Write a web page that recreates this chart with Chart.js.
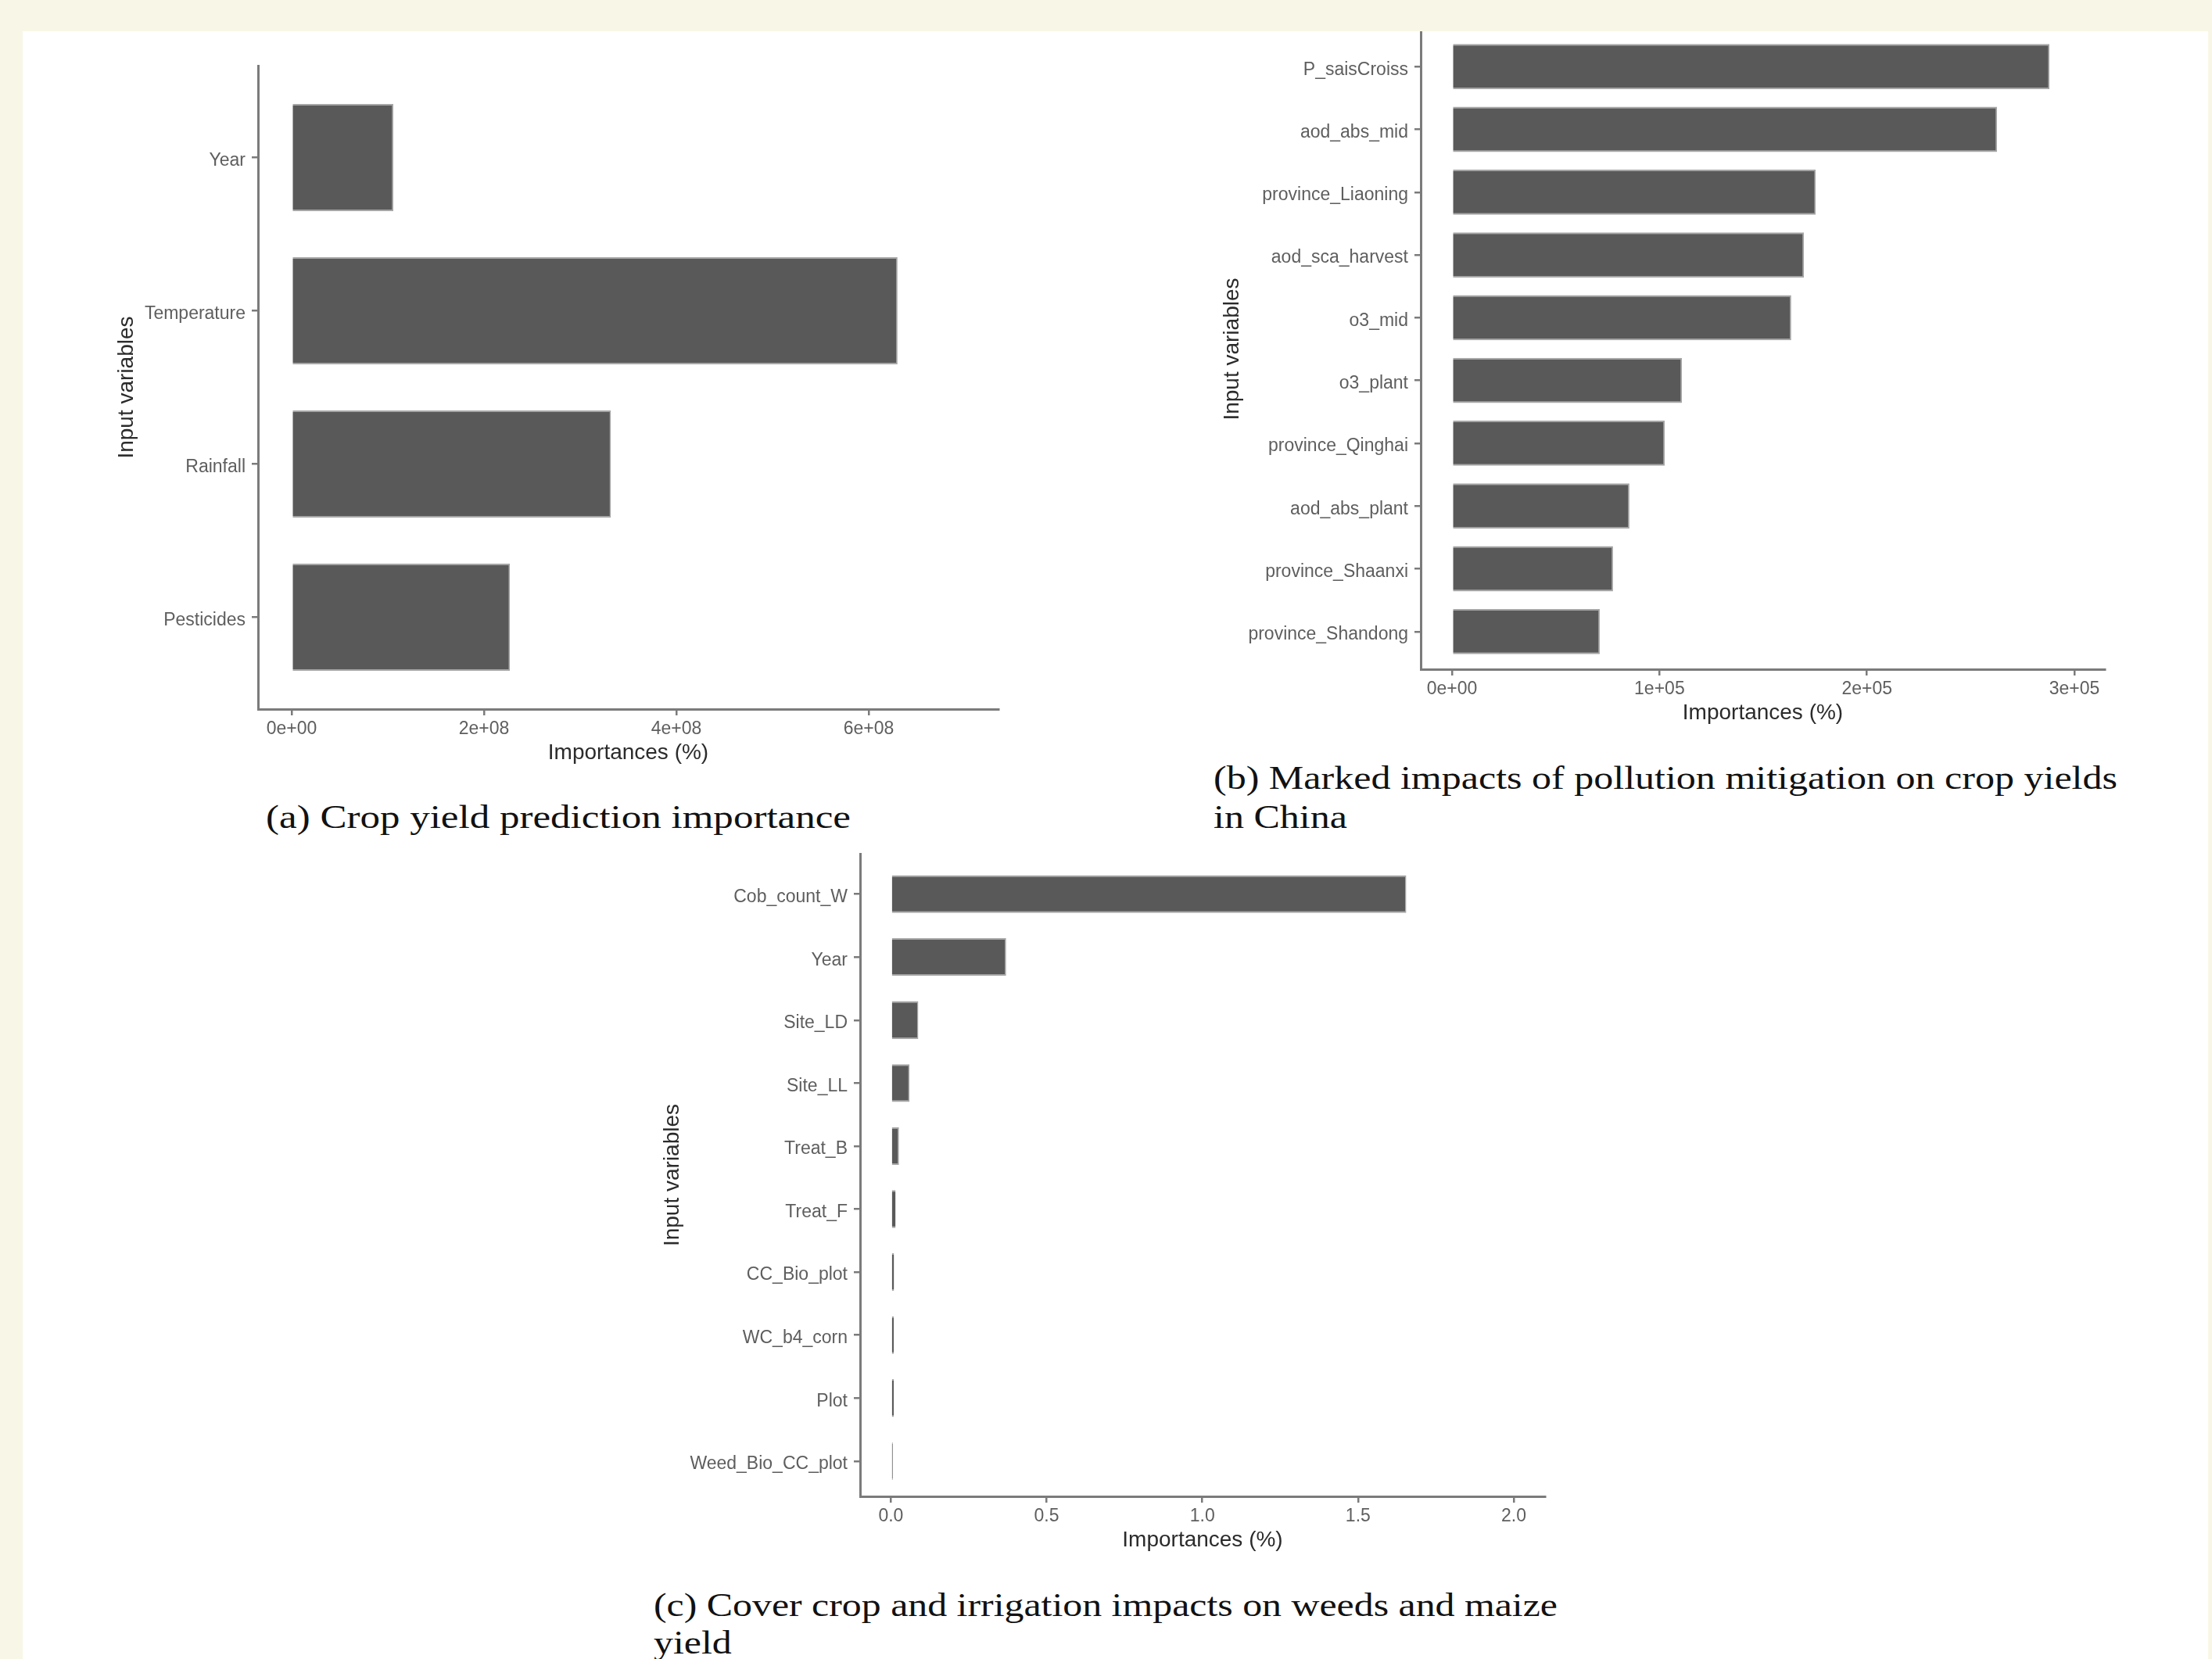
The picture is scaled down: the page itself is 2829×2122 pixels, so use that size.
<!DOCTYPE html>
<html>
<head>
<meta charset="utf-8">
<script src="https://cdn.jsdelivr.net/npm/chart.js@4.4.0/dist/chart.umd.min.js"></script>
<style>
body { margin: 0; background: #f8f7e7; width: 2829px; height: 2122px; overflow: hidden; }
#page { position: absolute; left: 29px; top: 40px; width: 2795px; height: 2082px; background: #fff; overflow: hidden; }
canvas { position: absolute; }
.cap { position: absolute; font-family: 'Liberation Serif', 'Times New Roman', serif; font-size: 42px;
       line-height: 50px; color: #111; white-space: nowrap; transform-origin: 0 50%; }
</style>
</head>
<body>
<div id="page">
  <canvas id="chart_a" width="1237" height="957" style="left:31px; top:0px"></canvas>
  <canvas id="chart_b" width="1182" height="909" style="left:1501px; top:-3px"></canvas>
  <canvas id="chart_c" width="1176" height="934" style="left:791px; top:1030px"></canvas>

  <div class="cap" id="cap_a" style="left:311px; top:980px">(a) Crop yield prediction importance</div>
  <div class="cap" id="cap_b1" style="left:1523px; top:930px">(b) Marked impacts of pollution mitigation on crop yields</div>
  <div class="cap" id="cap_b2" style="left:1523px; top:980px">in China</div>
  <div class="cap" id="cap_c1" style="left:807px; top:1988px">(c) Cover crop and irrigation impacts on weeds and maize</div>
  <div class="cap" id="cap_c2" style="left:807px; top:2036px">yield</div>
</div>

<script>
// (a) crop yield prediction
const labelsA = ['Year', 'Temperature', 'Rainfall', 'Pesticides'];
const valuesA = [1.057e8, 6.30e8, 3.32e8, 2.27e8];
const xTicksA = [0, 2e8, 4e8, 6e8];
const xTickLabelsA = ['0e+00', '2e+08', '4e+08', '6e+08'];

// (b) pollution mitigation, China
const labelsB = ['P_saisCroiss', 'aod_abs_mid', 'province_Liaoning', 'aod_sca_harvest', 'o3_mid',
                 'o3_plant', 'province_Qinghai', 'aod_abs_plant', 'province_Shaanxi', 'province_Shandong'];
const valuesB = [2.88e5, 2.627e5, 1.753e5, 1.696e5, 1.635e5, 1.108e5, 1.025e5, 0.855e5, 0.776e5, 0.712e5];
const xTicksB = [0, 1e5, 2e5, 3e5];
const xTickLabelsB = ['0e+00', '1e+05', '2e+05', '3e+05'];

// (c) cover crop and irrigation
const labelsC = ['Cob_count_W', 'Year', 'Site_LD', 'Site_LL', 'Treat_B', 'Treat_F',
                 'CC_Bio_plot', 'WC_b4_corn', 'Plot', 'Weed_Bio_CC_plot'];
const valuesC = [1.655, 0.370, 0.088, 0.060, 0.026, 0.015, 0.010, 0.009, 0.009, 0.006];
const xTicksC = [0, 0.5, 1.0, 1.5, 2.0];
const xTickLabelsC = ['0.0', '0.5', '1.0', '1.5', '2.0'];

const barFill = '#595959';
const barEdge = '#a6a6a6';
const lineColor = '#7b7b7b';
const tickColor = '#5e5e5e';
const titleColor = '#2b2b2b';

Chart.defaults.font.family = "'Liberation Sans', Arial, sans-serif";

// light edge round the bars, dropped on the right of very thin ones
function bar_border(c) {
  var x = c.chart.scales.x;
  var w = c.raw ? x.getPixelForValue(c.raw.x) - x.getPixelForValue(0) : 10;
  return {top: 2, bottom: 2, right: w < 6 ? 0 : 1.5, left: 0};
}

function render_chart(id, labels, values, xTicks, xTickLabels, opts) {
  var ctx = document.getElementById(id).getContext('2d');
  return new Chart(ctx, {
    type: 'bar',
    data: {
      datasets: [{
        data: values.map(function (v, i) { return {x: v, y: i}; }),
        backgroundColor: barFill,
        borderColor: barEdge,
        borderWidth: bar_border,
        categoryPercentage: opts.barShare,
        barPercentage: 1
      }]
    },
    options: {
      indexAxis: 'y',
      responsive: false,
      animation: false,
      devicePixelRatio: 1,
      layout: {padding: {top: opts.padTop, right: 20, bottom: 0, left: 0}},
      plugins: {legend: {display: false}, tooltip: {enabled: false}},
      scales: {
        x: {
          type: 'linear',
          offset: false,
          min: opts.xMin,
          max: opts.xMax,
          afterBuildTicks: function (s) { s.ticks = xTicks.map(function (v) { return {value: v}; }); },
          afterFit: function (s) { s.height = 90; s.paddingLeft = 0; s.paddingRight = 0; },
          ticks: {
            autoSkip: false, maxRotation: 0, padding: 4, color: tickColor, font: {size: 23},
            callback: function (v, i) { return xTickLabels[i]; }
          },
          grid: {offset: false, drawOnChartArea: false, tickLength: 8, color: lineColor, lineWidth: 2.5},
          border: {color: lineColor, width: 3},
          title: {display: true, text: 'Importances (%)', color: titleColor, font: {size: 28},
                  padding: {top: 0, bottom: 17}}
        },
        y: {
          type: 'linear',
          offset: false,
          reverse: true,
          min: opts.yMin,
          max: labels.length - 1 + opts.yMax,
          afterBuildTicks: function (s) { s.ticks = labels.map(function (l, i) { return {value: i}; }); },
          afterFit: function (s) { s.width = opts.yWidth; s.paddingTop = 0; s.paddingBottom = 0; },
          ticks: {
            autoSkip: false, padding: 8, labelOffset: 4, color: tickColor, font: {size: 23},
            callback: function (v, i) { return labels[i]; }
          },
          grid: {offset: false, drawOnChartArea: false, tickLength: 8, color: lineColor, lineWidth: 2.5},
          border: {color: lineColor, width: 3},
          title: {display: true, text: 'Input variables', color: titleColor, font: {size: 28},
                  padding: {top: opts.yTitlePad, bottom: 0}}
        }
      }
    }
  });
}

render_chart('chart_a', labelsA, valuesA, xTicksA, xTickLabelsA,
  {xMin: -0.35e8, xMax: 7.35e8, yMin: -0.6, yMax: 0.6, padTop: 44, yWidth: 270, yTitlePad: 85, barShare: 0.7});
render_chart('chart_b', labelsB, valuesB, xTicksB, xTickLabelsB,
  {xMin: -0.151e5, xMax: 3.147e5, yMin: -0.6, yMax: 0.6, padTop: 0, yWidth: 287, yTitlePad: 29, barShare: 0.72});
render_chart('chart_c', labelsC, valuesC, xTicksC, xTickLabelsC,
  {xMin: -0.099, xMax: 2.1005, yMin: -0.64, yMax: 0.56, padTop: 22, yWidth: 280, yTitlePad: 23, barShare: 0.6});

// stretch the serif captions to the width they take in the paper
function fit_caption(id, width) {
  var el = document.getElementById(id);
  var k = width / el.getBoundingClientRect().width;
  el.style.transform = 'scaleX(' + k + ')';
  return k;
}
fit_caption('cap_a', 748);
var kb = fit_caption('cap_b1', 1156);
document.getElementById('cap_b2').style.transform = 'scaleX(' + kb + ')';
var kc = fit_caption('cap_c1', 1156);
document.getElementById('cap_c2').style.transform = 'scaleX(' + kc + ')';
</script>
</body>
</html>
